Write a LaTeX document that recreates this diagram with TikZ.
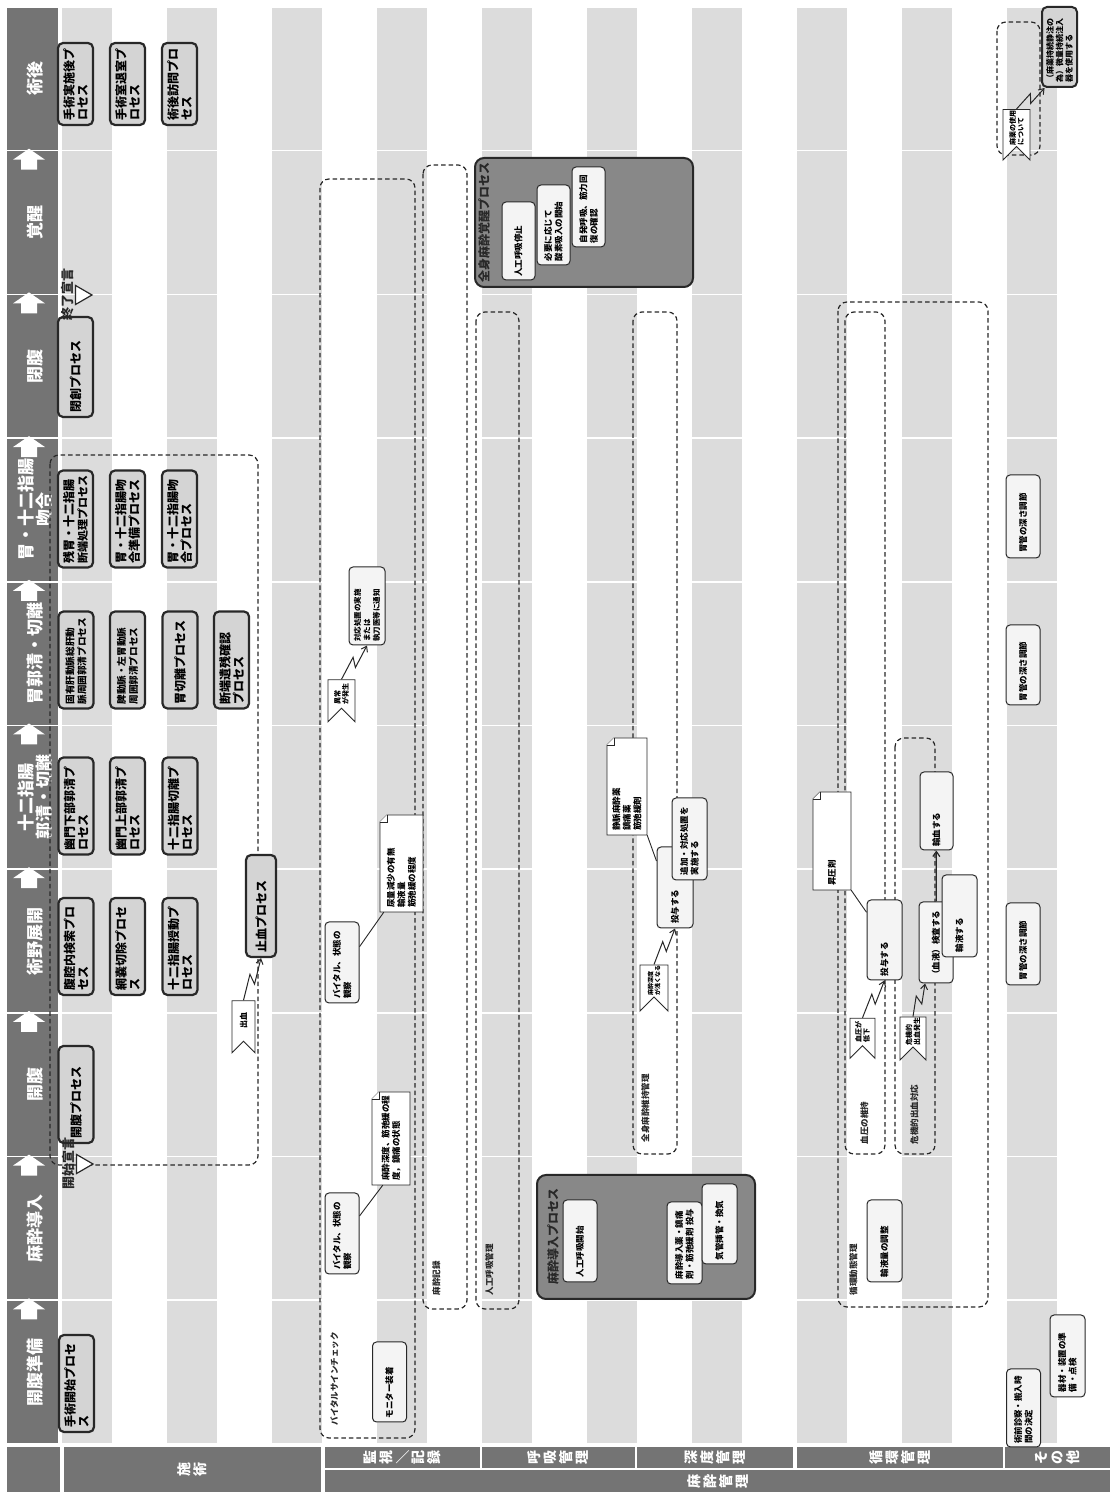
\documentclass[tikz,border=0pt]{standalone}
\usepackage{fontspec}
\setmainfont{Noto Sans CJK JP}
\usepackage{graphicx}
\usetikzlibrary{positioning,arrows.meta,calc,shapes.geometric,shapes.symbols}
\definecolor{Ink}{RGB}{40,40,40}
\definecolor{HeadGray}{RGB}{116,116,116}
\definecolor{StripeGray}{RGB}{220,220,220}
\definecolor{ProcFill}{RGB}{212,212,212}
\definecolor{BigFill}{RGB}{136,136,136}
\definecolor{TaskFill}{RGB}{244,244,244}
\tikzset{
  phasetext/.style={text=white,font=\fontsize{17}{18.5}\selectfont\bfseries,align=center,inner sep=0pt},
  lanecell/.style={fill=HeadGray,draw=none,inner sep=0pt,text=white,align=center,
    font=\fontsize{14}{16}\selectfont\bfseries},
  procbox/.style={draw=Ink,line width=2.2pt,fill=ProcFill,rounded corners=5pt,
    minimum width=97pt,minimum height=35pt,text width=89pt,align=left,inner sep=4pt,
    font=\fontsize{12}{13.5}\selectfont\bfseries},
  smallproc/.style={procbox,font=\fontsize{9.6}{12}\selectfont\bfseries},
  taskbox/.style={draw=Ink,line width=1pt,fill=TaskFill,rounded corners=4pt,
    minimum width=80pt,minimum height=34pt,text width=73pt,align=left,inner sep=3pt,
    font=\fontsize{8.5}{10.5}\selectfont\bfseries},
  bigproc/.style={draw=Ink,line width=2pt,fill=BigFill,rounded corners=9pt},
  bigtitle/.style={font=\fontsize{12}{14}\selectfont\bfseries,text=Ink,inner sep=0pt},
  grpbox/.style={draw=Ink,line width=1.2pt,dash pattern=on 4.5pt off 3pt,rounded corners=9pt,inner sep=0pt},
  grptext/.style={font=\fontsize{8.5}{10}\selectfont\bfseries,text=Ink,inner sep=0pt,anchor=west},
  flagbox/.style={shape=signal,signal from=west,signal to=nowhere,draw=Ink,line width=0.9pt,
    fill=white,align=left,inner sep=1pt,font=\fontsize{7}{8}\selectfont\bfseries},
  memo/.style={draw=Ink,line width=0.9pt,fill=white},
  memotext/.style={align=left,inner sep=3pt,font=\fontsize{8.5}{10.5}\selectfont\bfseries},
  zigline/.style={draw=Ink,line width=1pt,-{Straight Barb[length=5pt,width=7pt]}},
  linkline/.style={draw=Ink,line width=0.9pt},
  flowline/.style={draw=Ink,line width=1.2pt,-{Straight Barb[length=5pt,width=7pt]}},
  declmark/.style={regular polygon,regular polygon sides=3,shape border rotate=180,
    draw=Ink,line width=1.2pt,fill=white,minimum size=22pt,inner sep=0pt},
  decltext/.style={font=\fontsize{13}{14}\selectfont\bfseries,text=Ink,inner sep=0pt}
}
\newcommand{\zigto}[2]{\draw[zigline] (#1) -- ($(#1)!0.58!(#2)!4pt!90:(#2)$)
  -- ($(#1)!0.42!(#2)!4pt!-90:(#2)$) -- (#2);}
\newcommand{\notecard}[6]{%
  \pgfmathsetmacro\nl{#2-#4/2}\pgfmathsetmacro\nr{#2+#4/2}%
  \pgfmathsetmacro\nb{#3-#5/2}\pgfmathsetmacro\nt{#3+#5/2}%
  \pgfmathsetmacro\ntw{#4-8}%
  \filldraw[memo] (\nl,\nb) -- (\nr,\nb) -- (\nr,\nt-7) -- (\nr-7,\nt) -- (\nl,\nt) -- cycle;
  \draw[memo] (\nr-7,\nt) -- (\nr-7,\nt-7) -- (\nr,\nt-7);
  \node[memotext,minimum width=#4pt,minimum height=#5pt,text width=\ntw pt] (#1) at (#2,#3) {#6};}

\begin{document}
\begin{tikzpicture}[x=1pt,y=1pt,rotate=90,transform shape]
  \useasboundingbox (0,0) rectangle (1492,-1110);
  \fill[white] (0,0) rectangle (1492,-1110);
  \foreach \k/\name in {0/開腹準備,1/麻酔導入,2/開腹,3/術野展開,4/{十二指腸\\郭清・切離},
      5/胃郭清・切離,6/{胃・十二指腸\\吻合},7/閉腹,8/覚醒,9/術後}{
    \pgfmathsetmacro\xa{48+143.7*\k+0.8}
    \pgfmathsetmacro\xb{48+143.7*(\k+1)-0.8}
    \fill[HeadGray] (\xa,-7) rectangle (\xb,-58);
    \foreach \j in {0,...,9}
      \fill[StripeGray] (\xa,{-62-105*\j}) rectangle (\xb,{-112-105*\j});
    \node[phasetext] (phase\k) at ({(\xa+\xb)/2},-35) {\name};
  }
  \foreach \k in {1,...,9}{
    \pgfmathsetmacro\bx{48+143.7*\k}
    \fill[white] ({\bx-19},-21) -- ({\bx-9},-21) -- ({\bx-9},-13) -- ({\bx+2},-29)
      -- ({\bx-9},-45) -- ({\bx-9},-37) -- ({\bx-19},-37) -- cycle;
  }

  \node[lanecell,minimum width=45pt,minimum height=53pt] (corner) at (22.5,-33.5) {};
  \node[lanecell,minimum width=45pt,minimum height=257pt] (opslane) at (22.5,-192.5) {施\\術};
  \node[lanecell,minimum width=22pt,minimum height=785pt] (anelane) at (11,-717.5) {麻\\酔\\管\\理};
  \node[lanecell,minimum width=21pt,minimum height=155pt] (monlane) at (34.5,-402.5)
    {監\\視\\\rotatebox[origin=c]{-90}{／}\\記\\録};
  \node[lanecell,minimum width=21pt,minimum height=153pt] (resplane) at (34.5,-558.5) {呼\\吸\\管\\理};
  \node[lanecell,minimum width=21pt,minimum height=156pt] (depthlane) at (34.5,-715) {深\\度\\管\\理};
  \node[lanecell,minimum width=21pt,minimum height=206pt] (circlane) at (34.5,-900) {循\\環\\管\\理};
  \node[lanecell,minimum width=21pt,minimum height=105pt] (otherlane) at (34.5,-1057.5) {そ\\の\\他};

  \node[grpbox,minimum width=710pt,minimum height=208pt] (opgrp) at (682,-154) {};
  \node[grpbox,minimum width=1259pt,minimum height=95pt] (vitalgrp) at (683.5,-367.5) {};
  \node[grptext] (vitaltxt) at ($(vitalgrp.north west)+(13,-15)$) {バイタルサインチェック};
  \node[grpbox,minimum width=1144pt,minimum height=44pt] (recgrp) at (755,-445) {};
  \node[grptext] (rectxt) at ($(recgrp.north west)+(14,-14)$) {麻酔記録};
  \node[grpbox,minimum width=997pt,minimum height=43pt] (ventgrp) at (681.5,-497.5) {};
  \node[grptext] (venttxt) at ($(ventgrp.north west)+(14,-14)$) {人工呼吸管理};
  \node[grpbox,minimum width=842pt,minimum height=44pt] (maintgrp) at (759,-655) {};
  \node[grptext] (mainttxt) at ($(maintgrp.north west)+(12,-13)$) {全身麻酔維持管理};
  \node[grpbox,minimum width=1005pt,minimum height=150pt] (circgrp) at (687.5,-913) {};
  \node[grptext] (circtxt) at ($(circgrp.north west)+(12,-16)$) {循環動態管理};
  \node[grpbox,minimum width=842pt,minimum height=40pt] (bpgrp) at (759,-865) {};
  \node[grptext] (bptxt) at ($(bpgrp.north west)+(10,-20)$) {血圧の維持};
  \node[grpbox,minimum width=416pt,minimum height=40pt] (bleedgrp) at (546,-915) {};
  \node[grptext] (bleedtxt) at ($(bleedgrp.north west)+(10,-20)$) {危機的出血対応};
  \node[grpbox,minimum width=133pt,minimum height=43pt] (narcgrp) at (1403.5,-1018.5) {};

  \node[procbox] (prep) at (108.5,-76.5) {手術開始プロセ\\ス};
  \node[procbox] (openab) at (397.5,-76) {開腹プロセス};
  \node[procbox] (explore) at (545.5,-76) {腹腔内検索プロ\\セス};
  \node[procbox] (omentum) at (545.5,-127.5) {網嚢切除プロセ\\ス};
  \node[procbox] (mobil) at (545.5,-180) {十二指腸授動プ\\ロセス};
  \node[procbox] (infra) at (686,-76) {幽門下部郭清プ\\ロセス};
  \node[procbox] (supra) at (686,-127.5) {幽門上部郭清プ\\ロセス};
  \node[procbox] (duocut) at (686,-180) {十二指腸切離プ\\ロセス};
  \node[smallproc] (hepatic) at (832,-76) {固有肝動脈総肝動\\脈周囲郭清プロセス};
  \node[smallproc] (splenic) at (832,-127.5) {脾動脈・左胃動脈\\周囲郭清プロセス};
  \node[procbox] (gastcut) at (832,-180) {胃切離プロセス};
  \node[procbox] (margin) at (832,-231.5) {断端遺残確認\\プロセス};
  \node[procbox] (stump) at (973,-75.5) {残胃・十二指腸\\{\fontsize{11}{13}\selectfont 断端処理プロセス}};
  \node[procbox] (anaprep) at (973,-127.5) {胃・十二指腸吻\\合準備プロセス};
  \node[procbox] (anast) at (973,-179.5) {胃・十二指腸吻\\合プロセス};
  \node[procbox,minimum width=100pt,text width=92pt] (closure) at (1125,-75.5) {閉創プロセス};
  \node[procbox,minimum width=82pt,text width=74pt] (postop) at (1408,-75.5) {手術実施後プ\\ロセス};
  \node[procbox,minimum width=82pt,text width=74pt] (leave) at (1408,-127.5) {手術室退室プ\\ロセス};
  \node[procbox,minimum width=82pt,text width=74pt] (visit) at (1408,-179.5) {術後訪問プロ\\セス};
  \node[procbox,minimum width=102pt,minimum height=30pt,text width=94pt] (stopbleed) at (586,-261) {止血プロセス};
  \node[flagbox,minimum width=52pt,minimum height=23pt,font=\fontsize{8}{9}\selectfont\bfseries] (bleedflag) at (471,-243.5) {出血};
  \zigto{bleedflag.east}{stopbleed.west}

  \node[declmark] (startmark) at (328,-82) {};
  \node[decltext,above=1pt of startmark] (starttxt) {開始宣言};
  \node[declmark] (endmark) at (1197,-81) {};
  \node[decltext,above=1pt of endmark] (endtxt) {終了宣言};

  \node[taskbox] (monitor) at (110,-389.5) {モニター装着};
  \node[taskbox,minimum width=81pt] (obs1) at (258.5,-342) {バイタル、状態の\\観察};
  \node[taskbox,minimum width=81pt] (obs2) at (529.5,-342) {バイタル、状態の\\観察};
  \notecard{depthnote}{353.5}{-391}{93}{38}{麻酔深度、筋弛緩の程\\度，鎮痛の状態}
  \notecard{urinenote}{628.5}{-401.5}{97}{43}{尿量減少の有無\\輸液量\\筋弛緩の程度}
  \draw[linkline] (obs1.-45) -- (depthnote.170);
  \draw[linkline] (obs2.-48) -- (urinenote.160);
  \node[flagbox,minimum width=42pt,minimum height=27pt] (alarmflag) at (798,-341.5) {異常\\が発生};
  \node[taskbox,minimum width=78pt,minimum height=36pt,text width=72pt,
    font=\fontsize{7.5}{9.5}\selectfont\bfseries] (react) at (886,-367) {対応処置の実施\\または\\執刀医等に通知};
  \zigto{alarmflag.east}{react.west}

  \node[bigproc,minimum width=124pt,minimum height=218pt] (inductproc) at (255,-646) {};
  \node[bigtitle,below=11pt of inductproc.north] (inducttitle) {麻酔導入プロセス};
  \node[taskbox,minimum width=82pt] (ventstart) at (251,-580) {人工呼吸開始};
  \node[taskbox,minimum width=82pt,minimum height=35pt] (induct) at (249,-684.5) {麻酔導入薬・鎮痛\\剤・筋弛緩剤 投与};
  \node[taskbox,minimum height=35pt] (intub) at (268,-719.5) {気管挿管・換気};

  \node[bigproc,minimum width=129pt,minimum height=218pt] (wakeproc) at (1269.5,-584) {};
  \node[bigtitle,below=4pt of wakeproc.north] (waketitle) {全身麻酔覚醒プロセス};
  \node[taskbox,minimum width=78pt,minimum height=33pt,text width=72pt] (ventstop) at (1251,-518.5) {人工呼吸停止};
  \node[taskbox,minimum height=33pt] (oxygen) at (1267,-553.5) {必要に応じて\\酸素吸入の開始};
  \node[taskbox,minimum height=33pt] (spont) at (1285,-588.5) {自発呼吸、筋力回\\復の確認};

  \notecard{drugnote}{705.5}{-627}{97}{40}{静脈麻酔薬\\鎮痛薬\\筋弛緩剤}
  \node[flagbox,minimum width=38pt,minimum height=28pt,font=\fontsize{6}{7}\selectfont\bfseries] (lightflag) at (511,-654) {麻酔深度\\が浅くなる};
  \node[taskbox,minimum width=81pt,minimum height=36pt] (dose1) at (604.5,-675) {投与する};
  \node[taskbox,minimum width=82pt,minimum height=35pt] (extra) at (653,-689.5) {追加・対応処置を\\実施する};
  \zigto{lightflag.east}{dose1.west}
  \draw[linkline] (dose1.35) -- (drugnote.south west);

  \node[taskbox,minimum width=82pt,minimum height=35pt] (fluidadj) at (251,-884.5) {輸液量の調整};
  \notecard{bpnote}{651}{-832}{98}{38}{昇圧剤}
  \node[flagbox,minimum width=40pt,minimum height=25pt] (bpflag) at (460,-862.5) {血圧が\\低下};
  \node[taskbox,minimum height=35pt] (dose2) at (552,-884.5) {投与する};
  \zigto{bpflag.east}{dose2.west}
  \draw[linkline] (dose2.33) -- (bpnote.south west);
  \node[flagbox,minimum width=40pt,minimum height=26pt] (critflag) at (460,-913) {危機的\\出血発生};
  \node[taskbox,minimum width=81pt] (bloodtest) at (549.5,-936) {（血液）検査する};
  \node[taskbox,minimum width=78pt,minimum height=33pt,text width=72pt] (transf) at (681,-936.5) {輸血する};
  \draw[flowline] (bloodtest) -- (transf);
  \node[taskbox,minimum width=82pt,minimum height=35pt] (infuse) at (576,-959.5) {輸液する};
  \zigto{critflag.east}{bloodtest.165}

  \node[taskbox,minimum width=82pt] (tube1) at (548,-1023) {胃管の深さ調節};
  \node[taskbox] (tube2) at (827,-1023) {胃管の深さ調節};
  \node[taskbox,minimum width=83pt] (tube3) at (975.5,-1023) {胃管の深さ調節};
  \node[taskbox,minimum width=78pt,text width=72pt] (preop) at (84,-1023.5) {術前診察・搬入時\\間の決定};
  \node[taskbox,minimum width=82pt,minimum height=35pt] (equip) at (136,-1067.5) {器材・装置の準\\備・点検};
  \node[flagbox,minimum width=50pt,minimum height=27pt] (narcflag) at (1364,-1016.5) {麻薬の使用\\について};
  \node[procbox,minimum width=80pt,minimum height=35pt,text width=72pt,line width=2pt,
    font=\fontsize{8}{9.5}\selectfont\bfseries] (pump) at (1445,-1059.5) {（麻薬持続静注の\\為）微量持続注入\\器を使用する};
  \zigto{narcflag.east}{pump.160}
\end{tikzpicture}
\end{document}
